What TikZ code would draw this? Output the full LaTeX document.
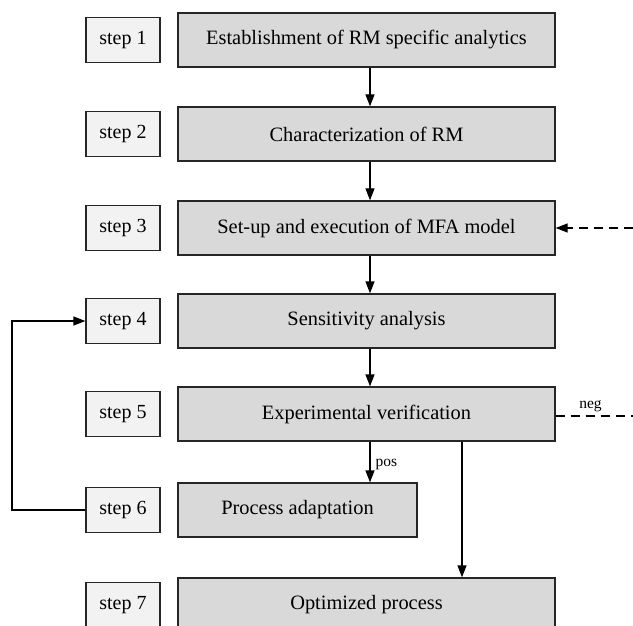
\documentclass[tikz,border=0pt]{standalone}
\usepackage{fontspec}
\setmainfont{Liberation Serif}
\usetikzlibrary{arrows.meta}
\definecolor{mainfill}{HTML}{D9D9D9}
\definecolor{stepfill}{HTML}{F2F2F2}
\begin{document}
\begin{tikzpicture}[x=1pt,y=-1pt,
  mainbox/.style={draw=black!85, line width=1.3pt, fill=mainfill, minimum height=54pt,
    inner sep=0pt, font=\fontsize{20.4}{24}\selectfont},
  stepbox/.style={draw=black!85, line width=1.3pt, fill=stepfill, minimum width=74pt,
    minimum height=45pt, inner sep=0pt, font=\fontsize{20}{24}\selectfont},
  flow/.style={draw=black, line width=1.3pt, -{Triangle[length=12pt,width=9pt]}},
  lbl/.style={font=\fontsize{15.5}{18}\selectfont, inner sep=1pt}]
\useasboundingbox (0,0) rectangle (633,626);
% step labels
\foreach \i/\y in {1/40,2/134,3/228,4/321,5/414,6/510,7/605}
  \node[stepbox] (s\i) at (123,\y) {step \i};
% process boxes
\node[mainbox, minimum width=377pt] (m1) at (366.5,40) {Establishment of RM specific analytics};
\node[mainbox, minimum width=377pt] (m2) at (366.5,134) {Characterization of RM};
\node[mainbox, minimum width=377pt] (m3) at (366.5,228) {Set-up and execution of MFA model};
\node[mainbox, minimum width=377pt] (m4) at (366.5,321) {Sensitivity analysis};
\node[mainbox, minimum width=377pt] (m5) at (366.5,414) {Experimental verification};
\node[mainbox, minimum width=239pt] (m6) at (297.5,510) {Process adaptation};
\node[mainbox, minimum width=377pt] (m7) at (366.5,605) {Optimized process};
% main flow
\draw[flow] (m1.south -| 370,0) -- (m2.north -| 370,0);
\draw[flow] (m2.south -| 370,0) -- (m3.north -| 370,0);
\draw[flow] (m3.south -| 370,0) -- (m4.north -| 370,0);
\draw[flow] (m4.south -| 370,0) -- (m5.north -| 370,0);
\draw[flow] (m5.south -| 370,0) -- node[lbl, right=4pt, pos=0.55] {pos} (m6.north -| 370,0);
\draw[flow] (m5.south -| 462,0) -- (m7.north -| 462,0);
% feedback loop
\coordinate (fb) at (12,0);
\draw[flow] (s6.west) -- (s6.west -| fb) -- (s4.west -| fb) -- (s4.west);
% external dashed links
\coordinate (e3) at (633,228);
\coordinate (e5) at (633,416);
\draw[flow, dash pattern=on 9pt off 6pt] (e3) -- (m3.east);
\draw[line width=1.3pt, dash pattern=on 9pt off 6pt] (m5.east |- e5) -- node[lbl, above=3pt, pos=0.45] {neg} (e5);
\end{tikzpicture}
\end{document}
